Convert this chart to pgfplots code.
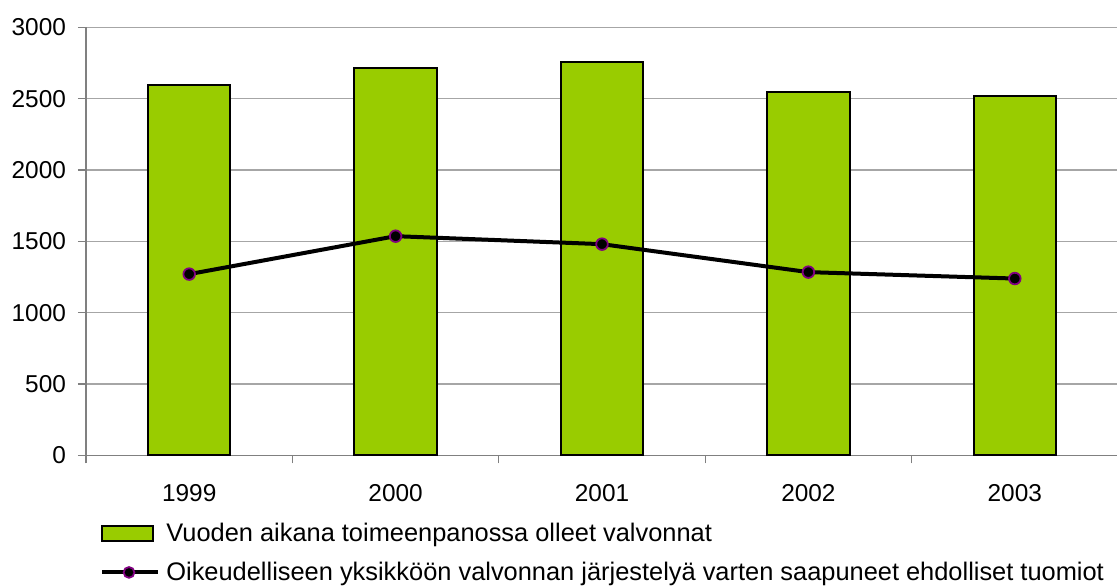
\documentclass[border=0pt]{standalone}
\usepackage{fontspec}
\setmainfont{Liberation Sans}
\usepackage{pgfplots}
\pgfplotsset{compat=1.18}
\definecolor{barg}{HTML}{99CC00}
\definecolor{mpurple}{HTML}{800080}
\definecolor{gridc}{HTML}{A6A6A6}
\definecolor{axc}{HTML}{808080}
\begin{document}
\begin{tikzpicture}
\begin{axis}[
  name=ax,
  scale only axis, width=516pt, height=214pt,
  xmin=-0.5, xmax=4.5, ymin=0, ymax=3000,
  axis x line*=bottom, axis y line*=left,
  axis line style={axc, line width=0.6pt},
  xtick={0,1,2,3,4}, xticklabels={1999,2000,2001,2002,2003},
  major x tick style={draw=none},
  minor xtick={-0.5,0.5,1.5,2.5,3.5,4.5},
  minor x tick style={axc, line width=0.6pt},
  ytick={0,500,...,3000},
  y tick style={axc, line width=0.6pt},
  tick align=outside,
  major tick length=4pt, minor tick length=4pt,
  ymajorgrids, grid style={gridc, line width=0.6pt},
  tick label style={font=\fontsize{12.2}{14}\selectfont},
  xticklabel style={yshift=-7pt},
  yticklabel style={xshift=-2.5pt},
  /pgf/number format/assume math mode=true,
  /pgf/number format/1000 sep={},
  legend style={at={(0,0)}, anchor=north west, xshift=7pt, yshift=-30.5pt,
    draw=none, fill=none, font=\fontsize{12.7}{14.5}\selectfont, row sep=2.8pt,
    inner sep=0pt, nodes={inner sep=3pt}},
  legend cell align=left,
]
\addplot[ybar, bar width=0.4, fill=barg, draw=black, line width=1pt,
  legend image code/.code={\draw[fill=barg,draw=black,line width=1pt] (0pt,-3.75pt) rectangle (25.5pt,3.75pt);}]
  coordinates {(0,2595) (1,2715) (2,2757) (3,2546) (4,2516)};
\addlegendentry{Vuoden aikana toimeenpanossa olleet valvonnat}
\addplot[black, line width=2pt, mark=*, mark size=2.9pt,
  mark options={fill=black, draw=mpurple, line width=0.9pt},
  legend image code/.code={\draw[black,line width=2pt] (0pt,0pt) -- (28pt,0pt);
    \fill[black,draw=mpurple,line width=0.9pt] (13.3pt,0pt) circle (2.7pt);}]
  coordinates {(0,1270) (1,1536) (2,1480) (3,1284) (4,1239)};
\addlegendentry{Oikeudelliseen yksikköön valvonnan järjestelyä varten saapuneet ehdolliset tuomiot}
\end{axis}
\pgfresetboundingbox
\path[use as bounding box] ([xshift=-43pt,yshift=-65.25pt]ax.south west) rectangle ([xshift=-0.5pt,yshift=13.65pt]ax.north east);
\end{tikzpicture}
\end{document}
